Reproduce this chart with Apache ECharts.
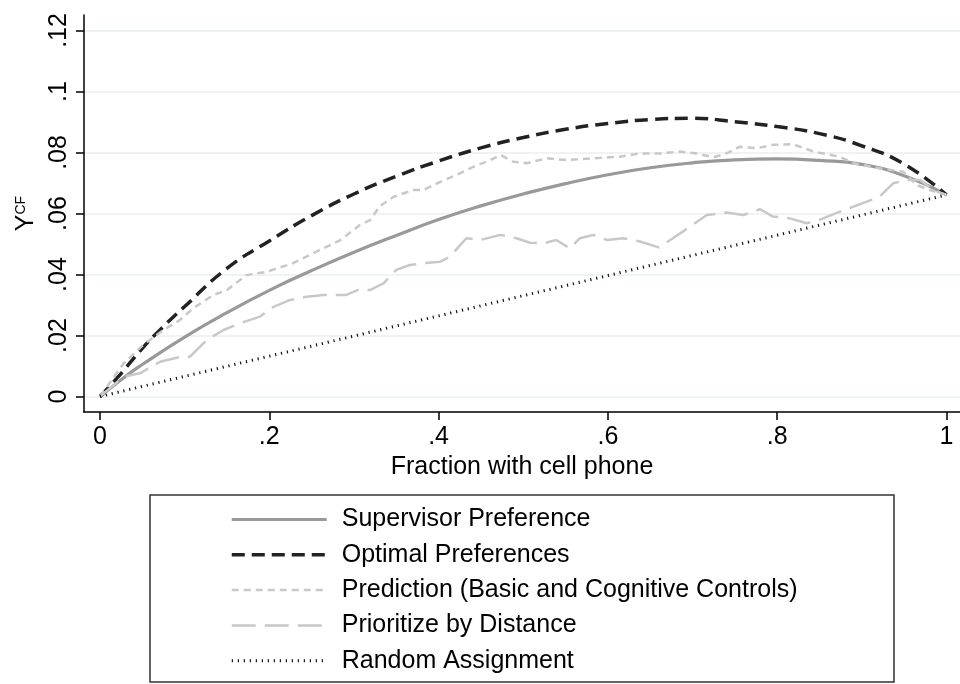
<!DOCTYPE html>
<html><head><meta charset="utf-8">
<script src="https://cdn.jsdelivr.net/npm/echarts@6/dist/echarts.min.js"></script>
<style>html,body{margin:0;padding:0;background:#fff}#c{width:960px;height:684px}</style>
</head><body><div id="c"></div>
<script>
const xTicks = [0, 0.2, 0.4, 0.6, 0.8, 1];
const xTickLabels = ['0', '.2', '.4', '.6', '.8', '1'];
const yTicks = [0, 0.02, 0.04, 0.06, 0.08, 0.1, 0.12];
const yTickLabels = ['0', '.02', '.04', '.06', '.08', '.1', '.12'];
const xTitle = 'Fraction with cell phone';
const seriesNames = ['Supervisor Preference', 'Optimal Preferences', 'Prediction (Basic and Cognitive Controls)', 'Prioritize by Distance', 'Random Assignment'];

const supervisorPref = [[0,0],[0.035,0.0076],[0.05,0.0105],[0.1,0.0195],[0.15,0.0275],[0.2,0.0348],[0.25,0.0413],[0.3,0.0473],[0.35,0.0528],[0.4,0.0580],[0.45,0.0625],[0.5,0.0664],[0.55,0.0698],[0.6,0.0727],[0.65,0.0750],[0.7,0.0766],[0.75,0.0776],[0.8,0.0779],[0.85,0.0774],[0.9,0.0761],[0.95,0.0724],[1,0.0661]];
const optimalPref = [[0,0],[0.02,0.006],[0.05,0.0158],[0.07,0.0216],[0.1,0.0295],[0.15,0.0420],[0.2,0.0510],[0.25,0.0593],[0.3,0.0664],[0.35,0.0722],[0.4,0.0772],[0.45,0.0815],[0.5,0.0849],[0.55,0.0876],[0.6,0.0895],[0.65,0.0908],[0.7,0.0912],[0.75,0.0901],[0.8,0.0885],[0.85,0.0862],[0.9,0.0822],[0.95,0.0762],[1,0.0661]];
const predictionCtrl = [[0,0],[0.028,0.0109],[0.051,0.0169],[0.075,0.0218],[0.094,0.025],[0.110,0.0289],[0.134,0.0333],[0.150,0.0349],[0.173,0.0398],[0.197,0.0409],[0.228,0.0437],[0.252,0.0470],[0.284,0.0513],[0.307,0.0562],[0.319,0.0578],[0.331,0.0625],[0.347,0.0655],[0.370,0.0677],[0.382,0.0677],[0.402,0.0704],[0.421,0.0726],[0.441,0.0753],[0.461,0.0775],[0.473,0.0792],[0.488,0.0770],[0.504,0.0765],[0.528,0.0781],[0.551,0.0775],[0.583,0.0781],[0.614,0.0786],[0.638,0.0797],[0.662,0.0797],[0.685,0.0803],[0.705,0.0797],[0.725,0.0784],[0.740,0.0797],[0.756,0.0819],[0.776,0.0814],[0.795,0.0825],[0.819,0.0827],[0.843,0.0803],[0.874,0.0786],[0.890,0.0765],[0.921,0.0748],[0.949,0.0737],[0.965,0.0693],[0.980,0.0677],[1,0.0661]];
const distancePrior = [[0,0],[0.028,0.0065],[0.047,0.0076],[0.071,0.0114],[0.095,0.0130],[0.106,0.0130],[0.126,0.0185],[0.146,0.0218],[0.165,0.0240],[0.189,0.0262],[0.205,0.0294],[0.224,0.0316],[0.244,0.0327],[0.264,0.0333],[0.291,0.0333],[0.307,0.0352],[0.319,0.0349],[0.335,0.0371],[0.350,0.0415],[0.366,0.0431],[0.382,0.0437],[0.402,0.0442],[0.413,0.0458],[0.433,0.0519],[0.449,0.0513],[0.473,0.0530],[0.492,0.0519],[0.508,0.0504],[0.524,0.0502],[0.539,0.0513],[0.555,0.0486],[0.567,0.0519],[0.583,0.0530],[0.599,0.0513],[0.618,0.0519],[0.638,0.0508],[0.660,0.0489],[0.677,0.0519],[0.697,0.0557],[0.717,0.0595],[0.740,0.0603],[0.760,0.0595],[0.780,0.0614],[0.795,0.0590],[0.815,0.0584],[0.835,0.0568],[0.850,0.0579],[0.874,0.0606],[0.906,0.0639],[0.921,0.0655],[0.937,0.0699],[0.953,0.0710],[0.969,0.0710],[0.984,0.0677],[1,0.0661]];
const randomAssign = [[0,0],[1,0.0661]];

const FONT = '"Liberation Sans", Arial, Helvetica, sans-serif';
const styles = [
  {color: '#999999', width: 3.2, type: 'solid', smooth: true},
  {color: '#222222', width: 3.5, type: [13, 7], smooth: true},
  {color: '#c8c8c8', width: 2.5, type: [7, 5], smooth: false},
  {color: '#c8c8c8', width: 2.5, type: [24, 9], smooth: false},
  {color: '#111111', width: 3, type: [1.2, 4.8], smooth: false}
];
const datasets = [supervisorPref, optimalPref, predictionCtrl, distancePrior, randomAssign];
function lab(ticks, labels) {
  return function (v) {
    for (let i = 0; i < ticks.length; i++) if (Math.abs(v - ticks[i]) < 1e-9) return labels[i];
    return '';
  };
}
const chart = echarts.init(document.getElementById('c'), null, {renderer: 'canvas'});
chart.setOption({
  animation: false,
  backgroundColor: '#fff',
  textStyle: {fontFamily: FONT},
  grid: {left: 84, top: 15, right: 0, bottom: 272, containLabel: false},
  xAxis: {
    type: 'value', min: -0.0189, max: 1.016,
    axisLine: {show: true, onZero: false, lineStyle: {color: '#000', width: 1.5}},
    axisTick: {show: true, length: 8, lineStyle: {color: '#000', width: 1.5}, customValues: xTicks},
    axisLabel: {show: true, customValues: xTicks, formatter: lab(xTicks, xTickLabels), color: '#000', fontSize: 25, fontFamily: FONT, margin: 13},
    splitLine: {show: false},
    name: xTitle, nameLocation: 'middle', nameGap: 39,
    nameTextStyle: {color: '#000', fontSize: 25, fontFamily: FONT}
  },
  yAxis: {
    type: 'value', min: -0.00508, max: 0.12508,
    axisLine: {show: true, onZero: false, lineStyle: {color: '#000', width: 1.5}},
    axisTick: {show: true, length: 8, lineStyle: {color: '#000', width: 1.5}, customValues: yTicks},
    axisLabel: {show: true, customValues: yTicks, formatter: lab(yTicks, yTickLabels), rotate: 90, color: '#000', fontSize: 25, fontFamily: FONT, margin: 12},
    splitLine: {show: true, lineStyle: {color: '#e9f0f3', width: 1.5}},
    name: '{y|Y}{s|CF}', nameLocation: 'middle', nameGap: 40, nameRotate: 90,
    nameTextStyle: {color: '#000', fontFamily: FONT, rich: {
      y: {fontSize: 25, fontFamily: FONT, color: '#000', lineHeight: 25},
      s: {fontSize: 14, fontFamily: FONT, color: '#000', lineHeight: 25, verticalAlign: 'top'}
    }}
  },
  legend: {
    show: true, orient: 'vertical', left: 230, top: 507, padding: 0, z: 10,
    itemWidth: 95, itemHeight: 14, itemGap: 10.3, selectedMode: false,
    itemStyle: {opacity: 0},
    data: seriesNames.map((n, i) => ({name: n, lineStyle: {color: styles[i].color, width: styles[i].width, type: styles[i].type, cap: 'butt'}})),
    textStyle: {color: '#000', fontSize: 25, fontFamily: FONT, lineHeight: 24, padding: [0, 0, 0, 10]}
  },
  graphic: [{type: 'rect', z: 1, shape: {x: 150, y: 495, width: 744, height: 187}, style: {fill: '#fff', stroke: '#333', lineWidth: 1.5}}],
  series: seriesNames.map((n, i) => ({
    name: n, type: 'line', data: datasets[i], smooth: styles[i].smooth, symbol: 'none', showSymbol: false, animation: false,
    lineStyle: {color: styles[i].color, width: styles[i].width, type: styles[i].type, cap: 'butt'},
    itemStyle: {color: styles[i].color}
  }))
});
</script></body></html>
